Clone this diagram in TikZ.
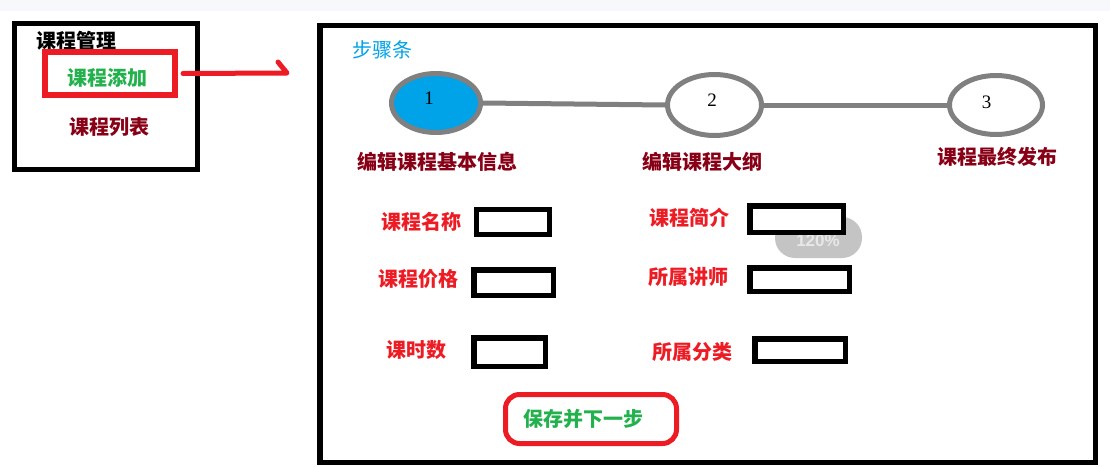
\documentclass[tikz,border=0pt]{standalone}
\usepackage{fontspec}
\setmainfont{Liberation Serif}
\newfontfamily\cjk{Noto Sans CJK SC}
\newfontfamily\sanslat{Liberation Sans}
\usetikzlibrary{shapes.geometric}
\definecolor{dred}{HTML}{880015}
\definecolor{bred}{HTML}{ED1C24}
\definecolor{bgreen}{HTML}{22B14C}
\definecolor{bblue}{HTML}{00A2E8}
\definecolor{sgray}{HTML}{808080}
\definecolor{topbg}{HTML}{F7F8FC}
\definecolor{pillgray}{HTML}{C4C4C4}
\definecolor{pilltext}{HTML}{E8E8E8}
\tikzset{
  lab/.style={inner sep=0pt, font=\cjk\bfseries\fontsize{20}{20}\selectfont},
  labreg/.style={inner sep=0pt, font=\cjk\fontsize{20}{20}\selectfont},
  field/.style={draw=black, line width=5.5pt, fill=white, inner sep=0pt},
  frame/.style={draw=black, line width=5.5pt, inner sep=0pt},
  stepell/.style={ellipse, draw=sgray, line width=5pt, inner sep=0pt, fill=white},
  num/.style={inner sep=0pt, font=\fontsize{19}{19}\selectfont},
  link/.style={draw=sgray, line width=5pt},
}
\begin{document}
\begin{tikzpicture}[x=1pt,y=-1pt]
\useasboundingbox (0,0) rectangle (1110,466);
\fill[topbg] (0,0) rectangle (1110,11);

% left panel
\node[frame, minimum width=183pt, minimum height=146pt] (menu) at (106,96.5) {};
\node[lab, text=black] (t0) at (76,41) {课程管理};
\node[draw=bred, line width=6pt, inner sep=0pt, minimum width=130pt, minimum height=43pt] (rb) at (110,73.5) {};
\node[lab, text=bgreen] (t1) at (107,78) {课程添加};
\node[lab, text=dred] (t2) at (109,127) {课程列表};

% arrow
\coordinate (a2) at (287,73);
\coordinate (a3) at (278,62);
\draw[bred, line width=5pt, line cap=round, line join=round] ([xshift=5pt]rb.east) -- (a2) -- (a3);

% main panel
\node[frame, minimum width=775.5pt, minimum height=437pt] (main) at (707.75,244) {};
\node[labreg, text=bblue] (st) at (382,50) {步骤条};

% steps
\node[stepell, fill=bblue, minimum width=89pt, minimum height=59pt] (e1) at (436,103) {};
\node[stepell, minimum width=94pt, minimum height=61pt] (e2) at (714.5,105) {};
\node[stepell, minimum width=93pt, minimum height=59pt] (e3) at (996,105) {};
\draw[link] (e1.east) -- (e2.west);
\draw[link] (e2.east) -- (e3.west);
\node[num] (n1) at (429,98) {1};
\node[num] (n2) at (712,100) {2};
\node[num] (n3) at (986.5,102) {3};
\node[lab, text=dred] (s1) at (437,162) {编辑课程基本信息};
\node[lab, text=dred] (s2) at (702,162) {编辑课程大纲};
\node[lab, text=dred] (s3) at (997,157) {课程最终发布};

% zoom pill
\node[fill=pillgray, rounded corners=20pt, minimum width=87pt, minimum height=41pt, inner sep=0pt] (pill) at (818.5,237.5) {};
\node[inner sep=0pt, text=pilltext, font=\sanslat\bfseries\fontsize{17}{17}\selectfont] (pt) at (818,241) {120\%};

% fields
\node[lab, text=bred] (l1) at (421,222) {课程名称};
\node[field, minimum width=73pt, minimum height=25pt] (f1) at (513,222) {};
\node[lab, text=bred] (l2) at (418,279) {课程价格};
\node[field, minimum width=79.5pt, minimum height=25.5pt] (f2) at (513.5,282.5) {};
\node[lab, text=bred] (l3) at (416,350) {课时数};
\node[field, minimum width=71.5pt, minimum height=28.5pt] (f3) at (509.5,352) {};
\node[lab, text=bred] (l4) at (689,218) {课程简介};
\node[field, minimum width=93.5pt, minimum height=26.5pt] (f4) at (796.5,219) {};
\node[lab, text=bred] (l5) at (688,277) {所属讲师};
\node[field, minimum width=99.5pt, minimum height=23.5pt] (f5) at (799.5,279.5) {};
\node[lab, text=bred] (l6) at (692,352) {所属分类};
\node[field, minimum width=90.5pt, minimum height=22.5pt] (f6) at (800,350) {};

% save button
\node[draw=bred, line width=5pt, rounded corners=14pt, minimum width=171pt, minimum height=49pt, inner sep=0pt] (save) at (591,419) {};
\node[lab, text=bgreen] (sv) at (583,419) {保存并下一步};
\end{tikzpicture}
\end{document}
